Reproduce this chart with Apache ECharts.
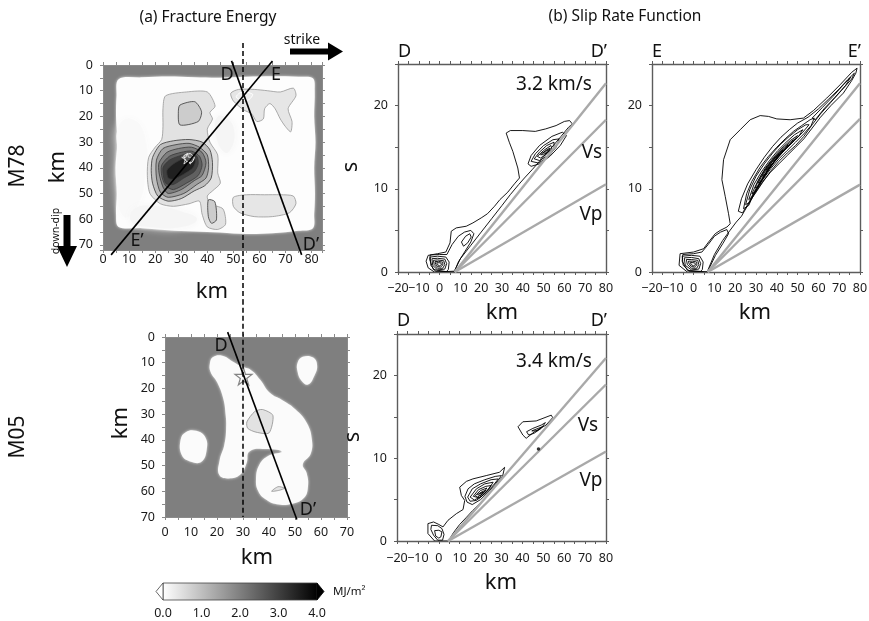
<!DOCTYPE html>
<html>
<head>
<meta charset="utf-8">
<script src="https://cdn.jsdelivr.net/npm/echarts@6/dist/echarts.min.js"></script>
<style>
html,body{margin:0;padding:0;background:#fff}
#chart{width:869px;height:621px}
</style>
</head>
<body>
<div id="chart"></div>
<script>
// ---------- (a) fracture energy, M78 rupture model (km along strike, km down dip) ----------
const m78Ruptured = [[6,5.5],[15,4.8],[25,4.5],[35,4.8],[45,5.0],[55,4.6],[65,4.4],[75,4.6],[80.5,5.2],[81.2,10],[81,20],[81.5,30],[81,40],[81.3,50],[81,58],[80.5,63.5],[75,64.5],[65,65.5],[55,65.8],[45,65.2],[35,64.8],[25,64.3],[15,63.5],[6,63],[5,58],[5.3,50],[4.8,40],[5.5,30],[5,20],[5.2,12]];

// faint low-energy patches without contour lines
const m78Haze = [
  {v:0.1, pts:[[6,24],[11,21],[16,28],[16,44],[13,55],[8,59],[5.5,48],[5.5,34]]},
  {v:0.15, pts:[[12,56],[20,55],[30,57],[36,60],[30,63],[18,63],[11,61]]},
  {v:0.15, pts:[[44,20],[50,24],[48,34],[44,30]]}
];

// energy contours: value in MJ/m^2 and outline
const m78Contours = [
  {v:0.45, pts:[[24,12],[32,10.5],[40,10.5],[43,16],[41,18.5],[42,21],[40,25],[41,30],[44,35],[44,42],[45,46],[42,49],[40,51],[41,54],[46,56],[47,62],[44,64],[40,63],[38,58],[37,53],[33,54],[27,55],[22,54],[18,50],[17,43],[17.5,36],[20,32],[22.5,29],[23,24],[23,17]]},
  {v:0.4, pts:[[49,11],[52,9.5],[58,9.5],[63,10],[68,10.5],[73,9],[74,12],[71,17],[72.5,22],[72,26],[70,24],[68,21],[66,17],[64,15],[62,17],[61.5,21],[59,22],[57,19],[54,17.5],[50,14]]},
  {v:0.4, pts:[[50,51.5],[55,50.5],[62,50.5],[68,50.5],[73,51],[74,54],[71.5,57.5],[65,59],[58,59],[52.5,57.5],[50,55]]},
  {v:0.8, pts:[[29.5,15.6],[35.2,14.3],[37.8,18.2],[36.5,22],[29.5,23.3],[28.9,18.2]]},
  {v:0.8, pts:[[40.4,52.5],[42.9,53.2],[43.5,60.3],[41.6,61.6],[40.4,59]]},
  {v:1.0, pts:[[19,36],[22,31],[27,29.5],[33,29],[38,30],[41,33],[42,38],[41.5,44],[39,47],[35,49],[30,52],[25,53],[21,51],[19,46],[18.5,41]]},
  {v:1.5, pts:[[20.5,37],[23,32.5],[28,31],[33,30.5],[37,32],[40,35],[40.5,40],[39.5,44],[36,46.5],[31,50],[25,51.5],[22,49.5],[20.5,44]]},
  {v:2.0, pts:[[21.5,38],[24.5,34],[29,32.5],[34,32],[38,34],[39.5,38],[38,43],[35,45],[30,48.5],[25,50],[23,47.5],[21.5,42]]},
  {v:2.5, pts:[[22.5,39],[25.5,35.5],[30,34],[34,33.5],[37,35.5],[38,39],[36.5,43],[32,46],[27,48.5],[24,47],[22.5,43]]},
  {v:3.0, pts:[[23,40],[25.5,37],[29,35.5],[33,34.5],[36,35.5],[36.5,38.5],[35,41.5],[31,44],[27,46.5],[24,46]]},
  {v:3.5, pts:[[24.5,41],[27,38.5],[30.5,36.5],[33.5,35.5],[35.5,37],[34.5,40],[31,42.5],[27,44.5],[25,44]]}
];
// local maxima outlined in white
const m78Peaks = [
  [[31,35.3],[33.5,34.5],[35,36],[34,38],[32,37.5]],
  [[51,12.5],[52.5,10.8],[55,10.5],[57.5,11.5],[56,13.5],[53.5,13.8]]
];
const m78Hypocenter = [[32.3,36.4]];

// ---------- (a) fracture energy, M05 rupture model ----------
const m05Ruptured = [
  [[17.3,10.1],[18.5,7.8],[22,7.3],[26,9.5],[29.5,11.5],[33,12.8],[36.6,16.6],[40.4,21.8],[45,24.5],[50,28],[54.6,33.5],[56.5,40],[56,45.5],[53,49.5],[54.5,53],[55,58],[53.5,62.5],[49,64.8],[43,65],[38.5,63],[35.9,60],[35,55.5],[36.3,49.7],[39.8,46.2],[44.9,44.6],[39.2,43.6],[32.5,44.5],[31.4,49],[28.9,53.6],[24,55],[20.8,53.5],[21,48],[22.8,42],[23.5,36],[23.3,30],[22.3,23.5],[20,17.5],[17.5,13.5]],
  [[51,10],[53,7.7],[57,8],[58.5,11],[57.5,15],[55,18.5],[52.5,17],[51,13.5]],
  [[6,40],[8,37],[12,36.5],[15.5,39],[16,44],[14,48.5],[10,48.5],[6.5,46]]
];
const m05Contours = [
  {v:0.45, pts:[[31.5,33],[34.5,29],[37.5,28.2],[41.5,30.5],[40,37.3],[35,37],[31.8,35.5]]},
  {v:0.45, pts:[[41,60],[43.5,58.2],[46,58.8],[44,59.6]]}
];
const m05Hypocenter = [[30.2,15.3]];

// profile traces and the strike reference line
const traceD78 = [[49.3,-1.6],[76.2,73.9]];
const traceE78 = [[65.0,-1.6],[3.1,73.9]];
const traceD05 = [[24.1,-1.9],[50.7,71.0]];
const refLine78 = [[53.7,-8.6],[53.7,91.4]];
const refLine05 = [[30.0,-14.5],[30.0,70.0]];

// ---------- (b) slip rate function: distance (km) vs time (s) ----------
const rupD78 = [[7.3,0],[80,22.7]];
const vsD78  = [[7.3,0],[80,18.3]];
const vpD78  = [[7.3,0],[80,10.55]];
const rupE78 = [[6.8,0],[80,22.7]];
const vsE78  = [[6.8,0],[80,18.4]];
const vpE78  = [[6.8,0],[80,10.5]];
const rupD05 = [[4.5,0],[80,22.1]];
const vsD05  = [[4.5,0],[80,18.9]];
const vpD05  = [[4.5,0],[80,10.8]];

const slipD78 = [
  [[-2.5,0],[-5.5,0.5],[-6.5,1.3],[-5.5,2.0],[-1,2.2],[3,2.4],[5,3.5],[5.6,4.9],[8,5.3],[12.8,5.5],[16,5.9],[20,6.5],[23,7.0],[26.4,7.9],[29,8.7],[32.8,9.6],[36,10.6],[38.4,11.3],[37.6,12.5],[35.2,14.5],[33.5,15.6],[32,16.7],[34,17.0],[40,17.0],[46,16.9],[51,17.2],[56,17.6],[60,18.1],[62.5,18.2],[63.8,17.8],[62,17.4],[58.4,16.3],[55,15.3],[52,14.4],[48,13.3],[44.5,12.3],[40.8,11.3],[38,10.5],[34,9.3],[30,8.0],[25,6.4],[20,4.8],[15,3.2],[10,1.6],[7.5,0.3],[7,0]],
  [[-4.8,1.5],[-4.5,2.05],[0,2.1],[3.5,2.1],[6,3.3],[9,4.3],[12,4.8],[15,5.0],[16.5,4.6],[15,3.6],[12,2.4],[9,1.2],[7.2,0.1],[3,0.05],[-3,0.3]],
  [[10.5,3.6],[12.5,4.3],[14.5,4.6],[15.2,4.2],[13.5,3.5],[11.5,3.1]],
  [[-4.5,1.8],[-1,1.9],[3,1.8],[4.6,1.2],[4.2,0.3],[3.3,0.05],[-2,0.1],[-4.2,0.8]],
  [[-3.7,1.6],[-1,1.65],[2.5,1.55],[3.4,1.0],[2.5,0.35],[-1,0.25],[-3.3,0.8]],
  [[-3,1.4],[-1,1.45],[2,1.35],[2.5,0.9],[1.5,0.45],[-1,0.45],[-2.6,0.9]],
  [[-2.2,1.25],[-0.5,1.28],[1.5,1.18],[1.6,0.85],[0.5,0.6],[-1,0.65],[-1.9,0.95]],
  [[-1.4,1.12],[0.5,1.1],[1,0.9],[0,0.75],[-1.1,0.88]],
  [[42.5,13.0],[44,14.0],[48,15.2],[54,16.3],[59,16.8],[61,16.4],[58,15.2],[53,13.9],[48,13.0],[44,12.7]],
  [[44,13.3],[46,14.2],[50,15.2],[54.5,15.9],[57.5,16.0],[56,15.0],[52,13.8],[47.5,13.1]],
  [[45.5,13.6],[48,14.4],[51.5,15.2],[55,15.6],[55,14.9],[51.5,13.9],[48,13.4]],
  [[47,13.9],[50,14.6],[53.5,15.2],[54,14.8],[51,14.1],[48.5,13.7]],
  [[48.5,14.1],[51,14.6],[53,14.9],[52.5,14.5],[50,14.1]],
  [[49.5,14.3],[51.5,14.6],[52.5,14.7],[51,14.3]]
];

const slipE78 = [
  [[-3,0],[-7,0.8],[-6.5,2.2],[0,2.4],[4.8,2.8],[7.2,3.6],[10.4,4.6],[12.8,5.0],[16,5.4],[17.6,5.8],[16.8,7.0],[15.2,9.1],[13.6,11.1],[14.4,13.5],[17.6,15.9],[22.4,17.1],[27.2,18.3],[32,18.8],[36,18.7],[40,18.4],[46.4,18.3],[52.8,18.5],[57.6,19.4],[64,20.9],[70.4,22.5],[76,24.0],[78.6,24.5],[78,23.9],[76,23.0],[72,21.5],[66,20.0],[61,18.6],[57,17.3],[53,16.0],[49,15.0],[45,14.0],[41,13.0],[37,12.0],[33,10.8],[29,9.3],[26,8.0],[23,6.7],[20.5,6.0],[17.5,5.0],[14,3.8],[10,2.1],[7.5,0.6],[6.5,0]],
  [[21.5,7.3],[23,8.8],[26,10.6],[30,12.3],[34,13.8],[38,15.1],[42,16.2],[46,17.1],[50,17.9],[55,18.6],[60,19.6],[65,20.8],[70,22.0],[74,23.1],[77.3,23.9],[76,23.2],[71,21.8],[66,20.4],[61,19.0],[57,17.7],[53,16.3],[49,15.2],[45,14.3],[41,13.3],[37,12.1],[33,10.7],[29,9.2],[26,8.1],[23.5,7.1]],
  [[24,7.6],[25.5,9.4],[28,10.9],[32,12.6],[36,13.9],[40,15.0],[44,16.0],[48,16.9],[52,17.6],[56,18.3],[58,18.5],[56.5,17.6],[53,16.6],[49,15.6],[45,14.6],[41,13.6],[37,12.4],[33,11.0],[29,9.4],[26.5,8.0]],
  [[25,8.1],[27,9.9],[30,11.5],[34,13.0],[38,14.3],[42,15.4],[46,16.3],[50,17.1],[54,17.7],[55.5,17.7],[52.5,16.8],[48.5,15.8],[44.5,14.8],[40.5,13.8],[36.5,12.6],[32.5,11.1],[29,9.6],[26.5,8.3]],
  [[26.5,8.7],[29,10.5],[32.5,12.0],[36.5,13.4],[40.5,14.6],[44.5,15.6],[48.5,16.5],[52.5,17.1],[50.5,16.3],[46.5,15.4],[42.5,14.4],[38.5,13.2],[34.5,11.8],[31,10.3],[28,9.0]],
  [[28,9.4],[31,11.0],[34.5,12.5],[38.5,13.8],[42.5,14.9],[46.5,15.8],[50,16.4],[47.5,15.6],[43.5,14.6],[39.5,13.4],[35.5,12.1],[32,10.7],[29.5,9.6]],
  [[29.5,10.1],[32.5,11.6],[36,12.9],[40,14.1],[44,15.1],[48,15.9],[45,15.0],[41,14.0],[37,12.7],[33.5,11.3],[31,10.3]],
  [[31,10.7],[34,12.1],[37.5,13.3],[41.5,14.4],[45.5,15.3],[42.5,14.4],[38.5,13.2],[35,11.9],[32.5,10.9]],
  [[33,11.5],[36,12.7],[39.5,13.8],[43,14.7],[40,13.7],[36.5,12.5],[34,11.6]],
  [[35,12.2],[38,13.3],[41,14.2],[38.5,13.2]],
  [[57,18.5],[62,19.8],[67,21.1],[72,22.5],[75.5,23.4],[73,22.4],[68,21.0],[63,19.7],[58.5,18.3]],
  [[-5.5,1.3],[-5.2,2.1],[0,2.2],[4,2.4],[7,3.3],[10,4.3],[13,4.8],[16,5.1],[16.8,4.6],[14,3.4],[10.5,2.0],[8,0.7],[6.8,0],[-3,0.2]],
  [[-5.5,1.9],[-1,2.0],[3,1.9],[4.6,1.2],[4.2,0.3],[3.3,0.05],[-2,0.1],[-5,0.8]],
  [[-4.5,1.7],[-1,1.75],[2.5,1.6],[3.4,1.0],[2.5,0.35],[-1,0.25],[-4,0.8]],
  [[-3.5,1.5],[-1,1.5],[2,1.4],[2.5,0.9],[1.5,0.45],[-1,0.45],[-3,0.9]],
  [[-2.5,1.3],[-0.5,1.3],[1.5,1.2],[1.6,0.85],[0.5,0.6],[-1,0.65],[-2.1,0.95]],
  [[-1.5,1.15],[0.5,1.1],[1,0.9],[0,0.75],[-1.2,0.88]]
];

const slipD05 = [
  [[-2,0],[-5.2,0.9],[-5.2,2.1],[-2.5,2.3],[0,2.0],[2,1.7],[4.4,2.5],[8.4,3.3],[11.6,3.8],[12.4,4.9],[10.8,5.5],[10,6.5],[13.2,7.2],[16.3,7.5],[22.7,7.9],[29,8.3],[31.5,8.9],[30.5,7.8],[27,6.6],[23.5,5.5],[20,4.6],[16.3,3.7],[13,2.8],[10,2.0],[7,1.0],[4.6,0]],
  [[-3.5,1.9],[-0.5,1.85],[1.5,1.5],[2.5,0.8],[1.8,0.1],[-0.5,0.1],[-2.5,0.7],[-3.8,1.4]],
  [[-2,1.25],[0,1.3],[1.5,1.1],[1,0.5],[0,0.35],[-1.5,0.6]],
  [[12.5,5.4],[14,6.3],[17,6.9],[22,7.4],[27,7.8],[30,7.9],[27.5,7.0],[24,6.0],[20,5.0],[16,4.4],[13.5,4.7]],
  [[13.8,5.3],[16,6.3],[20,6.9],[25,7.4],[28.5,7.5],[26,6.7],[22,5.7],[18,4.9],[15,4.8]],
  [[15,5.3],[18,6.3],[22,6.9],[26,7.1],[24,6.3],[20.5,5.4],[17,4.95]],
  [[16.5,5.4],[19,6.2],[22.5,6.6],[25,6.7],[22.5,5.9],[19.5,5.2]],
  [[17.5,5.5],[20,6.1],[23,6.4],[21,5.7],[18.5,5.3]],
  [[18.5,5.6],[21,6.0],[22.5,6.1],[20,5.5]],
  [[19.5,5.7],[21.2,5.95],[20.5,5.7]],
  [[37.9,13.8],[40.2,14.4],[46.6,14.5],[53.8,15.2],[54.5,14.9],[51.3,14.0],[45.8,13.2],[41.8,12.4],[40.2,12.8]],
  [[42,13.2],[45,13.6],[49,14.0],[51,14.3],[49,13.6],[45.5,13.0],[43,12.8]],
  [[44.5,13.3],[47.5,13.6],[49.5,13.8],[47,13.3]]
];
const slipD05Spot = [[47.7,11.1]];

// colour scale range (MJ/m^2)
const energyScale = [0, 4];
const energyTicks = [0, 1, 2, 3, 4];

// ---------- layout ----------
const FONT = '"Noto Sans", "DejaVu Sans", sans-serif';
const grids = [
  {left:103, top:65, width:219, height:185},   // 0: M78 map
  {left:165, top:337, width:182, height:180},  // 1: M05 map
  {left:398, top:64, width:208, height:208},   // 2: D-D' M78
  {left:652, top:64, width:208, height:208},   // 3: E-E' M78
  {left:397, top:334, width:209, height:207},  // 4: D-D' M05
  {left:163, top:583, width:154, height:17}    // 5: colour scale
].map(g => Object.assign({show:false, outerBoundsMode:'none', containLabel:false}, g));
grids[0].show = true; grids[0].backgroundColor = '#7f7f7f'; grids[0].borderWidth = 0;
grids[1].show = true; grids[1].backgroundColor = '#7f7f7f'; grids[1].borderWidth = 0;

const xAxes = [], yAxes = [];
function labelEvery(step) {
  return v => (Math.abs(v / step - Math.round(v / step)) < 1e-6 ? (v < 0 ? '\u2212' + (-v) : String(v)) : '');
}
function frame(g, xr, yr, o) {
  const mk = (pos, isX) => ({
    gridIndex: g, type: 'value', position: pos,
    min: isX ? xr[0] : yr[0], max: isX ? xr[1] : yr[1],
    interval: 5, inverse: !isX && !!o.inverseY,
    axisLine: {show: true, onZero: false, lineStyle: {color: o.color, width: o.lw}},
    axisTick: {show: true, inside: false, length: 3, lineStyle: {color: o.color, width: 1}},
    axisLabel: {show: false},
    splitLine: {show: false}, minorTick: {show: false}, minorSplitLine: {show: false},
    axisPointer: {show: false}
  });
  const xb = mk('bottom', true), xt = mk('top', true), yl = mk('left', false), yr2 = mk('right', false);
  xb.axisLabel = {show: true, formatter: labelEvery(10), margin: o.xMargin, fontSize: 12.5, color: '#1a1a1a', fontFamily: FONT};
  yl.axisLabel = {show: true, formatter: labelEvery(10), margin: 10, fontSize: 12.5, color: '#1a1a1a', fontFamily: FONT};
  const xi = xAxes.length, yi = yAxes.length;
  xAxes.push(xb, xt); yAxes.push(yl, yr2);
  return {x: xi, y: yi};
}
const axMap78 = frame(0, [0, 84], [0, 72], {inverseY: true, color: '#8a8a8a', lw: 1, xMargin: 3});
const axMap05 = frame(1, [0, 70], [0, 70], {inverseY: true, color: '#8a8a8a', lw: 1, xMargin: 9});
const axD78 = frame(2, [-20, 80], [0, 25], {color: '#5c5c5c', lw: 1.4, xMargin: 10});
const axE78 = frame(3, [-20, 80], [0, 25], {color: '#5c5c5c', lw: 1.4, xMargin: 10});
const axD05 = frame(4, [-20, 80], [0, 25], {color: '#5c5c5c', lw: 1.4, xMargin: 11});
// colour scale axes
const axBar = {x: xAxes.length, y: yAxes.length};
xAxes.push({gridIndex: 5, type: 'value', min: energyScale[0], max: energyScale[1], interval: 1,
  axisLine: {show: false}, axisTick: {show: false}, splitLine: {show: false},
  axisLabel: {show: true, margin: 7, fontSize: 12.5, color: '#1a1a1a', fontFamily: FONT,
    formatter: v => (energyTicks.indexOf(v) >= 0 ? v.toFixed(1) : '')}});
yAxes.push({gridIndex: 5, type: 'value', min: 0, max: 1, show: false});

// ---------- series builders ----------
const shade = v => { const g = Math.round(255 * (1 - v / 4)); return 'rgb(' + g + ',' + g + ',' + g + ')'; };

function polygons(ax, polys, styleOf, smooth) {
  return {
    type: 'custom', xAxisIndex: ax.x, yAxisIndex: ax.y, clip: true, silent: true,
    data: polys.map((p, i) => [0, 0, i]),
    encode: {x: 0, y: 1},
    renderItem: (params, api) => {
      const p = polys[params.dataIndex];
      const pts = (p.pts || p).map(q => api.coord(q));
      return {type: 'polygon', shape: {points: pts, smooth: smooth}, style: styleOf(p)};
    }
  };
}
function line(ax, data, style, clip) {
  return {type: 'line', xAxisIndex: ax.x, yAxisIndex: ax.y, data: data, symbol: 'none',
    clip: !!clip, silent: true, lineStyle: style, z: 5};
}
const STAR = 'path://M50,0 L61,35 L98,35 L68,57 L79,91 L50,70 L21,91 L32,57 L2,35 L39,35 Z';
const CONTOUR = {fill: 'none', stroke: '#000', lineWidth: 0.9};
const VEL = {color: '#a9a9a9', width: 2.4};

const series = [
  // M78 map
  polygons(axMap78, [m78Ruptured], () => ({fill: '#fdfdfd', stroke: 'none', shadowBlur: 3, shadowColor: 'rgba(255,255,255,0.8)'}), 0.35),
  polygons(axMap78, m78Haze, p => ({fill: shade(p.v), stroke: 'none', shadowBlur: 8, shadowColor: shade(p.v)}), 0.5),
  polygons(axMap78, m78Contours, p => ({fill: shade(p.v), stroke: p.v < 0.6 ? '#979797' : '#3a3a3a', lineWidth: 0.8}), 0.25),
  polygons(axMap78, m78Peaks, () => ({fill: 'rgba(255,255,255,0.25)', stroke: '#ffffff', lineWidth: 1}), 0.2),
  {type: 'scatter', xAxisIndex: axMap78.x, yAxisIndex: axMap78.y, data: m78Hypocenter, symbol: STAR, symbolSize: 11,
    itemStyle: {color: 'rgba(0,0,0,0)', borderColor: '#eeeeee', borderWidth: 1}, silent: true, z: 4},
  line(axMap78, refLine78, {color: '#000', width: 1.5, type: [5, 3]}, false),
  line(axMap78, traceD78, {color: '#000', width: 1.6}, false),
  line(axMap78, traceE78, {color: '#000', width: 1.6}, false),

  // M05 map
  polygons(axMap05, m05Ruptured, () => ({fill: '#fbfbfb', stroke: 'none', shadowBlur: 3, shadowColor: 'rgba(255,255,255,0.8)'}), 0.45),
  polygons(axMap05, m05Contours, p => ({fill: shade(p.v), stroke: '#8f8f8f', lineWidth: 0.8}), 0.25),
  {type: 'scatter', xAxisIndex: axMap05.x, yAxisIndex: axMap05.y, data: m05Hypocenter, symbol: STAR, symbolSize: 17,
    itemStyle: {color: 'rgba(0,0,0,0)', borderColor: '#666666', borderWidth: 1.2}, silent: true, z: 4},
  line(axMap05, refLine05, {color: '#000', width: 1.5, type: [5, 3]}, false),
  line(axMap05, traceD05, {color: '#000', width: 1.6}, false),

  // slip-rate sections
  line(axD78, rupD78, VEL, true), line(axD78, vsD78, VEL, true), line(axD78, vpD78, VEL, true),
  polygons(axD78, slipD78, () => CONTOUR, 0),

  line(axE78, rupE78, VEL, true), line(axE78, vsE78, VEL, true), line(axE78, vpE78, VEL, true),
  polygons(axE78, slipE78, () => CONTOUR, 0),

  line(axD05, rupD05, VEL, true), line(axD05, vsD05, VEL, true), line(axD05, vpD05, VEL, true),
  polygons(axD05, slipD05, () => CONTOUR, 0),
  {type: 'scatter', xAxisIndex: axD05.x, yAxisIndex: axD05.y, data: slipD05Spot, symbol: 'circle', symbolSize: 3.5,
    itemStyle: {color: '#000'}, silent: true, z: 6},

  // colour scale with open-ended triangles
  {type: 'custom', xAxisIndex: axBar.x, yAxisIndex: axBar.y, silent: true, clip: false,
    data: [[energyScale[0], 0]], encode: {x: 0, y: 1},
    renderItem: (params, api) => {
      const a = api.coord([energyScale[0], 1]), b = api.coord([energyScale[1], 0]);
      const my = (a[1] + b[1]) / 2, tri = 7;
      return {type: 'group', children: [
        {type: 'rect', shape: {x: a[0], y: a[1], width: b[0] - a[0], height: b[1] - a[1]},
          style: {fill: new echarts.graphic.LinearGradient(0, 0, 1, 0, [{offset: 0, color: '#ffffff'}, {offset: 1, color: '#000000'}]), stroke: '#444', lineWidth: 0.8}},
        {type: 'polygon', shape: {points: [[a[0], a[1]], [a[0] - tri, my], [a[0], b[1]]]}, style: {fill: '#fff', stroke: '#444', lineWidth: 0.8}},
        {type: 'polygon', shape: {points: [[b[0], a[1]], [b[0] + tri, my], [b[0], b[1]]]}, style: {fill: '#000', stroke: '#000', lineWidth: 0.8}}
      ]};
    }}
];

// ---------- text annotations ----------
function txt(x, y, text, size, o) {
  o = o || {};
  return {type: 'text', x: x, y: y, rotation: o.rot || 0, silent: true, z: 100,
    style: {text: text, fontSize: size, fontFamily: FONT, fill: o.fill || '#111',
      align: o.align || 'center', verticalAlign: 'middle'}};
}
const R90 = Math.PI / 2;
const graphics = [
  txt(208, 18, '(a) Fracture Energy', 15.5),
  txt(625, 17, '(b) Slip Rate Function', 15.5),
  txt(302, 40, 'strike', 14),
  {type: 'polygon', silent: true, shape: {points: [[290, 48.5], [328, 48.5], [328, 42.5], [343, 51.5], [328, 60.5], [328, 54.5], [290, 54.5]]}, style: {fill: '#000'}},
  txt(18, 166, 'M78', 21, {rot: R90}),
  txt(18, 437, 'M05', 21, {rot: R90}),
  txt(58, 167, 'km', 22, {rot: R90}),
  txt(56, 231, 'down-dip', 10.5, {rot: R90}),
  {type: 'polygon', silent: true, shape: {points: [[63.5, 215], [70.5, 215], [70.5, 246], [77, 246], [67, 267], [57, 246], [63.5, 246]]}, style: {fill: '#000'}},
  txt(212, 292, 'km', 22),
  txt(121, 423, 'km', 22, {rot: R90}),
  txt(257, 558, 'km', 22),
  // profile end labels on maps
  txt(227, 75, 'D', 18), txt(276, 75, 'E', 18), txt(137, 241, 'E\u2019', 18), txt(311, 245, 'D\u2019', 18),
  txt(221, 346, 'D', 18), txt(308, 510, 'D\u2019', 18),
  // section panels
  txt(398, 52, 'D', 18, {align: 'left'}), txt(607, 52, 'D\u2019', 18, {align: 'right'}),
  txt(652, 52, 'E', 18, {align: 'left'}), txt(861, 52, 'E\u2019', 18, {align: 'right'}),
  txt(397, 321, 'D', 18, {align: 'left'}), txt(607, 321, 'D\u2019', 18, {align: 'right'}),
  txt(554, 85, '3.2 km/s', 19), txt(592, 153, 'Vs', 19), txt(591, 215, 'Vp', 19),
  txt(554, 362, '3.4 km/s', 19), txt(588, 426, 'Vs', 19), txt(591, 481, 'Vp', 19),
  txt(351, 167, 's', 22, {rot: R90}), txt(353, 437, 's', 22, {rot: R90}),
  txt(502, 313, 'km', 22), txt(755, 313, 'km', 22), txt(501, 583, 'km', 22),
  txt(333, 592, 'MJ/m\u00b2', 11.5, {align: 'left'})
];

const chart = echarts.init(document.getElementById('chart'), null, {renderer: 'canvas'});
chart.setOption({
  animation: false,
  backgroundColor: '#ffffff',
  textStyle: {fontFamily: FONT},
  grid: grids,
  xAxis: xAxes,
  yAxis: yAxes,
  series: series,
  graphic: {elements: graphics}
});
</script>
</body>
</html>
